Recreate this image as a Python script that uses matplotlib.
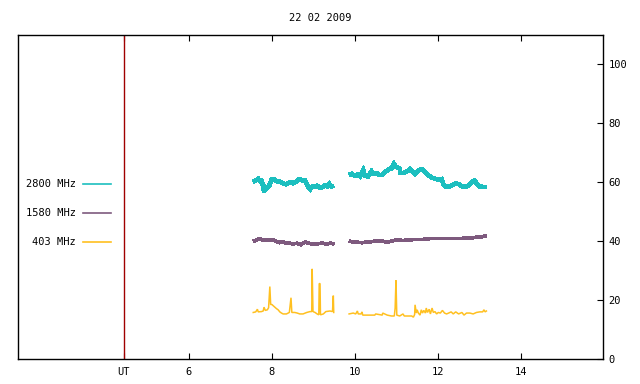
import numpy as np
import matplotlib
matplotlib.use("Agg")
import matplotlib.pyplot as plt

nan = np.nan

# ==========================================
# DATA (time in UT hours, flux in sfu-ish units)
# ==========================================
t_2800 = [7.55, 7.61, 7.67, 7.71, 7.75, 7.79, 7.81, 7.84, 7.89, 7.94, 7.99, 8.05, 8.11, 8.18,
          8.23, 8.29, 8.34, 8.39, 8.45, 8.51, 8.58, 8.63, 8.67, 8.74, 8.80, 8.85, 8.87, 8.92,
          8.98, 9.04, 9.09, 9.16, 9.22, 9.28, 9.33, 9.38, 9.44, 9.49, 9.60,
          9.86, 9.92, 10.00, 10.06, 10.12, 10.20, 10.24, 10.32, 10.40, 10.46, 10.52, 10.59,
          10.64, 10.70, 10.76, 10.83, 10.88, 10.94, 10.98, 11.04, 11.08, 11.10, 11.16, 11.25,
          11.33, 11.39, 11.45, 11.50, 11.57, 11.63, 11.69, 11.74, 11.81, 11.87, 11.95, 12.03,
          12.09, 12.14, 12.21, 12.29, 12.35, 12.43, 12.51, 12.59, 12.67, 12.75, 12.84, 12.89,
          12.95, 13.01, 13.09, 13.17]
v_2800 = [60.2, 60.6, 61.2, 60.4, 60.6, 58.7, 56.8, 58.4, 58.1, 59.0, 60.9, 61.1, 60.4, 60.2,
          60.0, 59.5, 59.3, 59.7, 60.0, 59.7, 60.2, 60.9, 61.1, 60.6, 60.6, 59.3, 58.4, 57.6,
          58.6, 58.4, 58.8, 58.1, 58.4, 59.0, 58.6, 59.5, 58.6, 58.8, nan,
          62.5, 62.9, 62.2, 62.7, 62.0, 64.1, 62.2, 62.0, 63.8, 62.9, 63.1, 62.5,
          62.5, 63.1, 63.8, 64.5, 64.7, 66.3, 65.4, 65.0, 64.7, 63.1, 63.1, 63.6,
          64.5, 63.6, 62.9, 63.6, 64.3, 64.3, 63.6, 62.7, 62.0, 61.5, 61.1, 60.9,
          61.1, 59.0, 58.4, 58.6, 59.0, 59.7, 59.3, 58.6, 58.4, 59.0, 60.4, 60.6,
          59.3, 58.6, 58.4, 58.4]

t_1580 = [7.55, 7.63, 7.69, 7.79, 7.91, 8.03, 8.10, 8.18, 8.27, 8.35, 8.43, 8.51, 8.61, 8.69,
          8.80, 8.87, 8.96, 9.08, 9.20, 9.32, 9.41, 9.50, 9.60,
          9.86, 10.00, 10.16, 10.32, 10.48, 10.64, 10.80, 10.92, 11.04, 11.16, 11.28, 11.45,
          11.65, 11.81, 12.05, 12.29, 12.53, 12.77, 12.93, 13.09, 13.17]
v_1580 = [40.0, 40.4, 40.9, 40.4, 40.4, 40.4, 40.0, 39.5, 39.7, 39.3, 39.3, 39.1, 39.3, 38.8,
          39.7, 39.3, 39.1, 39.1, 39.3, 39.1, 39.3, 39.1, nan,
          40.0, 39.7, 39.5, 39.7, 40.0, 40.0, 39.7, 40.2, 40.4, 40.2, 40.4, 40.6,
          40.6, 40.9, 40.9, 40.9, 40.9, 41.1, 41.3, 41.6, 41.8]

t_403 = [7.55, 7.61, 7.65, 7.67, 7.75, 7.79, 7.81, 7.84, 7.89, 7.92, 7.95, 7.97, 8.00, 8.03,
         8.07, 8.11, 8.15, 8.19, 8.23, 8.27, 8.35, 8.42, 8.46, 8.48, 8.55, 8.61, 8.67, 8.75,
         8.84, 8.92, 8.96, 8.97, 8.99, 9.04, 9.09, 9.13, 9.14, 9.16, 9.17, 9.24, 9.30, 9.40,
         9.46, 9.48, 9.49, 9.60,
         9.86, 9.96, 10.02, 10.06, 10.08, 10.15, 10.17, 10.19, 10.36, 10.48, 10.50, 10.66,
         10.67, 10.78, 10.88, 10.95, 10.97, 10.99, 11.01, 11.08, 11.16, 11.19, 11.37, 11.41,
         11.44, 11.45, 11.48, 11.50, 11.53, 11.57, 11.60, 11.63, 11.66, 11.70, 11.72, 11.75,
         11.79, 11.82, 11.86, 11.89, 11.93, 11.97, 12.01, 12.06, 12.11, 12.16, 12.21, 12.26,
         12.32, 12.37, 12.43, 12.50, 12.58, 12.63, 12.69, 12.77, 12.85, 12.93, 13.01, 13.08,
         13.11, 13.14, 13.17]
v_403 = [15.8, 16.0, 16.9, 16.0, 16.1, 16.3, 17.6, 16.5, 16.7, 17.4, 24.6, 18.5, 18.5, 18.1,
         17.6, 17.1, 16.7, 16.0, 15.6, 15.3, 15.3, 15.8, 20.8, 15.8, 15.8, 15.6, 15.3, 15.3,
         15.8, 16.1, 16.1, 30.6, 16.1, 15.8, 15.3, 15.0, 25.6, 25.6, 15.0, 15.3, 16.1, 16.3,
         16.1, 21.5, 15.8, nan,
         15.3, 15.6, 15.3, 16.3, 15.3, 15.3, 16.0, 14.9, 14.9, 14.9, 15.3, 14.9,
         15.6, 14.9, 14.6, 14.6, 17.3, 26.7, 14.9, 14.6, 15.3, 14.6, 14.6, 14.2,
         15.1, 18.4, 15.6, 16.7, 15.6, 14.9, 16.7, 15.6, 16.5, 15.6, 17.3, 15.8,
         16.9, 15.3, 17.3, 15.8, 16.1, 15.3, 15.8, 15.6, 16.5, 15.6, 15.3, 15.6,
         16.0, 15.3, 16.0, 15.3, 15.8, 14.9, 15.6, 15.6, 15.3, 15.8, 16.0, 16.0,
         16.7, 16.0, 16.3]

labels = ["2800 MHz", "1580 MHz", "403 MHz"]
colors = ["#1cbfbf", "#7e5a7e", "#ffc020"]
ut_start = 4.43
x_ticks = [ut_start, 6, 8, 10, 12, 14]
x_ticklabels = ["UT", "6", "8", "10", "12", "14"]
y_ticks = [0, 20, 40, 60, 80, 100]
title = "22 02 2009"

# ==========================================
# PLOT
# ==========================================
plt.rcParams['font.family'] = ['DejaVu Sans Mono']
fig = plt.figure(figsize=(6.4, 3.84), dpi=100)
ax = fig.add_axes([18 / 640, 25 / 384, 585 / 640, 324 / 384])

style = dict(solid_joinstyle='miter', solid_capstyle='butt', antialiased=False)
ax.plot(t_2800, v_2800, color=colors[0], linewidth=2.6, **style)
ax.plot(t_1580, v_1580, color=colors[1], linewidth=2.0, **style)
# thin channel with sharp spikes: bevel joins keep the spikes narrow
ax.plot(t_403, v_403, color=colors[2], linewidth=1.1, solid_joinstyle='bevel')

ax.axvline(ut_start, color='#a00000', linewidth=1.0)

ax.set_xlim(1.88, 15.98)
ax.set_ylim(0, 110)

ax.set_xticks(x_ticks)
ax.set_xticklabels(x_ticklabels, fontsize=7.5)
ax.tick_params(axis='x', direction='in', length=4, top=True, bottom=True, pad=6)
ax.yaxis.tick_right()
ax.set_yticks(y_ticks)
ax.set_yticklabels([str(v) for v in y_ticks], fontsize=7.5)
ax.tick_params(axis='y', direction='in', length=4, right=True, left=False, pad=4)

for s in ax.spines.values():
    s.set_linewidth(1.0)

# hand-made legend, text left of the sample line
leg_y = [0.540, 0.451, 0.361]
for lab, col, yy in zip(labels, colors, leg_y):
    ax.text(0.099, yy, lab, transform=ax.transAxes, ha='right', va='center', fontsize=7.5)
    ax.plot([0.111, 0.159], [yy, yy], transform=ax.transAxes, color=col, linewidth=1.2)

fig.text(0.5, 1 - 18 / 384, title, ha='center', va='center', fontsize=7.5)

fig.savefig("out.png", dpi=100)
